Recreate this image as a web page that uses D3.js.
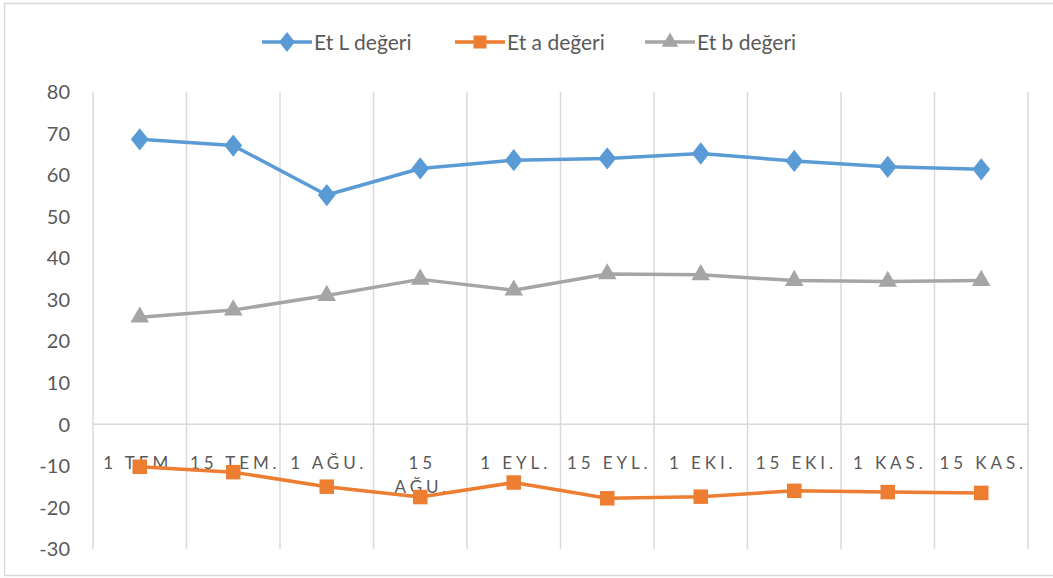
<!DOCTYPE html>
<html>
<head>
<meta charset="utf-8">
<script src="https://cdn.jsdelivr.net/npm/d3@7"></script>
<style>
  body { margin: 0; background: #fff; }
  text { font-family: Lato, "Open Sans", "Liberation Sans", sans-serif; fill: #595959; }
</style>
</head>
<body>
<div id="chart"></div>
<script>
// data
var categories = ["1 TEM.", "15 TEM.", "1 AĞU.", "15 AĞU.", "1 EYL.", "15 EYL.", "1 EKI.", "15 EKI.", "1 KAS.", "15 KAS."];
var valuesL = [68.6, 67.1, 55.2, 61.6, 63.6, 64.0, 65.2, 63.4, 62.0, 61.4];
var valuesA = [-10.2, -11.5, -15.0, -17.5, -14.0, -17.8, -17.4, -16.0, -16.3, -16.5];
var valuesB = [25.8, 27.5, 31.0, 34.9, 32.3, 36.2, 36.0, 34.6, 34.4, 34.6];
var yTicks = [80, 70, 60, 50, 40, 30, 20, 10, 0, -10, -20, -30];
var seriesNames = ["Et L değeri", "Et a değeri", "Et b değeri"];

var svgWidth = 1053, svgHeight = 578;
var margin = { top: 92, right: 25, bottom: 29, left: 93 };
var width = svgWidth - margin.left - margin.right;
var height = svgHeight - margin.top - margin.bottom;

var svg = d3.select("#chart").append("svg")
    .attr("width", svgWidth)
    .attr("height", svgHeight);

// outer chart border
svg.append("rect")
    .attr("x", 4.5).attr("y", 3.5)
    .attr("width", svgWidth + 10).attr("height", 572)
    .attr("fill", "none").attr("stroke", "#d9d9d9").attr("stroke-width", 1.5);

var g = svg.append("g").attr("transform", "translate(" + margin.left + "," + margin.top + ")");

var x = d3.scaleBand().domain(categories).range([0, width]).padding(0);
var y = d3.scaleLinear().domain([-30, 80]).range([height, 0]);

// vertical gridlines on category boundaries
var bounds = categories.map(function(c) { return x(c); }).concat([width]);
g.selectAll(".vgrid").data(bounds).enter().append("line")
    .attr("x1", function(d) { return d; }).attr("x2", function(d) { return d; })
    .attr("y1", 0).attr("y2", height)
    .attr("stroke", "#d9d9d9").attr("stroke-width", 1.5);

// category axis at zero
g.append("line")
    .attr("x1", 0).attr("x2", width)
    .attr("y1", y(0)).attr("y2", y(0))
    .attr("stroke", "#d9d9d9").attr("stroke-width", 1.5);

// y tick labels
g.selectAll(".ylab").data(yTicks).enter().append("text")
    .attr("x", -23).attr("y", function(d) { return y(d); })
    .attr("dy", "0.36em")
    .attr("text-anchor", "end")
    .style("font-size", "20px")
    .text(function(d) { return d; });

// category labels (wrap the long one like the original)
categories.forEach(function(c) {
    var lines = c === "15 AĞU." ? ["15", "AĞU."] : [c];
    var t = g.append("text")
        .attr("text-anchor", "middle")
        .style("font-size", "17px")
        .style("letter-spacing", "3.9px");
    lines.forEach(function(l, i) {
        t.append("tspan")
            .attr("x", x(c) + x.bandwidth() / 2 + 2)
            .attr("y", y(0) + 45 + i * 24)
            .text(l);
    });
});

var series = [
    { name: seriesNames[0], values: valuesL, color: "#5B9BD5", shape: d3.symbolDiamond, size: 130 },
    { name: seriesNames[1], values: valuesA, color: "#ED7D31", shape: d3.symbolSquare, size: 210 },
    { name: seriesNames[2], values: valuesB, color: "#A5A5A5", shape: d3.symbolTriangle, size: 150 }
];

function markerScale(s) {
    return s.shape === d3.symbolDiamond ? "scale(1.45,1.05)" : "";
}

var line = d3.line()
    .x(function(d, i) { return x(categories[i]) + x.bandwidth() / 2; })
    .y(function(d) { return y(d); });

series.forEach(function(s) {
    g.append("path")
        .datum(s.values)
        .attr("d", line)
        .attr("fill", "none")
        .attr("stroke", s.color)
        .attr("stroke-width", 3.5)
        .attr("stroke-linejoin", "round");
    g.selectAll(null).data(s.values).enter().append("path")
        .attr("d", d3.symbol().type(s.shape).size(s.size))
        .attr("transform", function(d, i) {
            return "translate(" + (x(categories[i]) + x.bandwidth() / 2) + "," + y(d) + ")" + markerScale(s);
        })
        .attr("fill", s.color);
});

// legend
var legendX = [262, 455, 645];
var legend = svg.append("g");
series.forEach(function(s, i) {
    var lg = legend.append("g").attr("transform", "translate(" + legendX[i] + ",42)");
    lg.append("line").attr("x1", 0).attr("x2", 50).attr("y1", 0).attr("y2", 0)
        .attr("stroke", s.color).attr("stroke-width", 3.5);
    lg.append("path")
        .attr("d", d3.symbol().type(s.shape).size(s.size * 0.8))
        .attr("transform", "translate(25,0)" + markerScale(s))
        .attr("fill", s.color);
    lg.append("text")
        .attr("x", 52).attr("y", 0).attr("dy", "0.36em")
        .style("font-size", "21px")
        .text(s.name);
});
</script>
</body>
</html>
